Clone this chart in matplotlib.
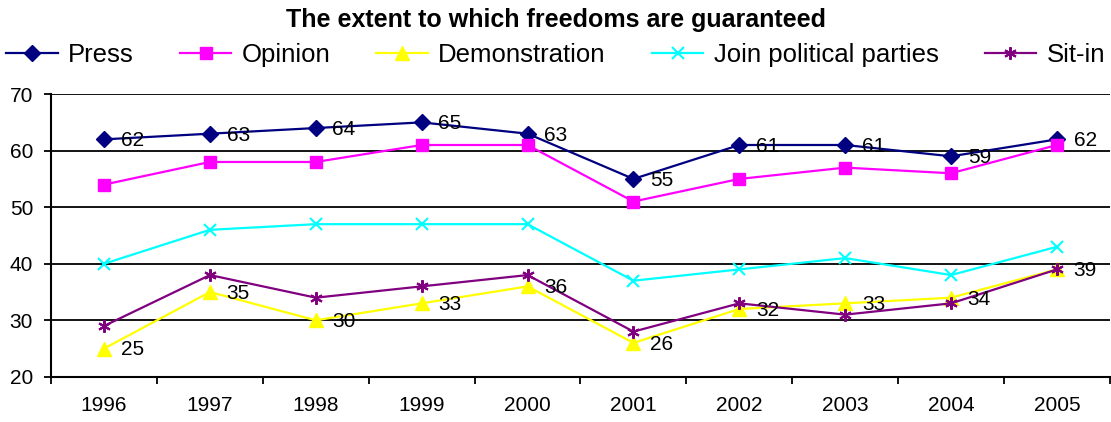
import numpy as np
import matplotlib
matplotlib.use('Agg')
import matplotlib.pyplot as plt
from matplotlib.ticker import FixedLocator

plt.rcParams['font.family'] = ['Liberation Sans', 'DejaVu Sans']

years = ['1996', '1997', '1998', '1999', '2000', '2001', '2002', '2003', '2004', '2005']
press = [62, 63, 64, 65, 63, 55, 61, 61, 59, 62]
opinion = [54, 58, 58, 61, 61, 51, 55, 57, 56, 61]
demonstration = [25, 35, 30, 33, 36, 26, 32, 33, 34, 39]
join_parties = [40, 46, 47, 47, 47, 37, 39, 41, 38, 43]
sit_in = [29, 38, 34, 36, 38, 28, 33, 31, 33, 39]

x = np.arange(len(years))
fig = plt.figure(figsize=(11.11, 4.22), dpi=100)
ax = fig.add_axes([0.046, 0.107, 0.953, 0.670])

asterisk = (6, 2, 0)
series = [
    ('Press', press, '#000080', 'D', 8),
    ('Opinion', opinion, '#FF00FF', 's', 8),
    ('Demonstration', demonstration, '#FFFF00', '^', 10),
    ('Join political parties', join_parties, '#00FFFF', 'x', 8),
    ('Sit-in', sit_in, '#800080', asterisk, 9),
]
for name, vals, col, mk, ms in series:
    ax.plot(x, vals, color=col, marker=mk, markersize=ms, linewidth=1.6,
            markeredgewidth=1.5 if mk in ('x', asterisk) else 1,
            markeredgecolor=col, label=name, clip_on=False)

# data labels for Press and Demonstration
for vals in (press, demonstration):
    for xi, v in zip(x, vals):
        ax.annotate(str(v), (xi, v), xytext=(12, -1), textcoords='offset points',
                    va='center', ha='left', fontsize=15)

ax.set_xlim(-0.5, 9.5)
ax.set_ylim(20, 70)
ax.set_yticks(range(20, 71, 10))
ax.yaxis.grid(True, color='black', linewidth=1.3)
ax.set_axisbelow(True)
ax.set_xticks(x)
ax.set_xticklabels(years)
ax.xaxis.set_minor_locator(FixedLocator(np.arange(-0.5, 10, 1)))
ax.tick_params(axis='x', which='major', length=0, labelsize=15, pad=14)
ax.tick_params(axis='x', which='minor', length=5, width=1.3)
ax.tick_params(axis='y', length=5, width=1.3, labelsize=15, pad=8)
for s in ('top', 'right'):
    ax.spines[s].set_visible(False)
for s in ('left', 'bottom'):
    ax.spines[s].set_linewidth(1.5)

fig.text(0.5, 0.935, 'The extent to which freedoms are guaranteed',
         ha='center', va='baseline', fontsize=18, fontweight='bold')
leg = fig.legend(loc='center', bbox_to_anchor=(0.5, 0.87), ncol=5, frameon=True,
                 facecolor='white', edgecolor='white', framealpha=1, fancybox=False,
                 borderpad=0.25, fontsize=18.5, handlelength=2.0, handletextpad=0.4,
                 columnspacing=1.8)

fig.savefig('out.png', dpi=100)
